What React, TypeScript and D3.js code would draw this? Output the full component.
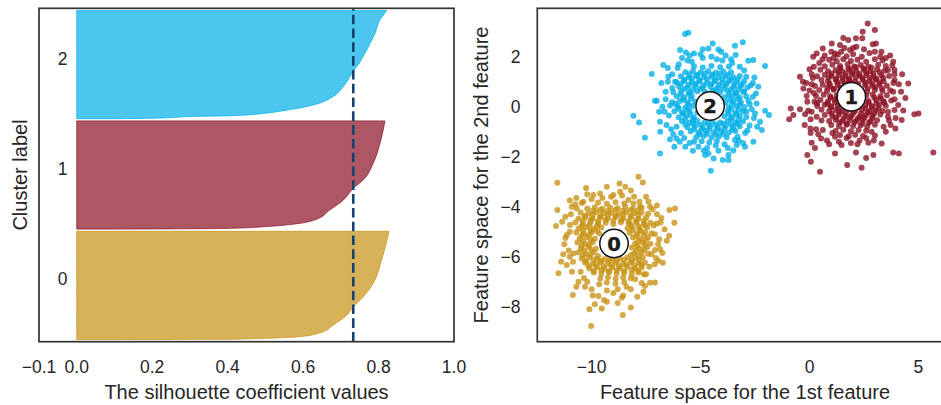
import React from "react";
import * as d3 from "d3";

// ---- Silhouette panel data ----
const CLUSTER_IDS = [0, 1, 2];
const CLUSTER_SIZES = [500, 500, 500];
const SIL_X_TICKS = [-0.1, 0, 0.2, 0.4, 0.6, 0.8, 1.0];
const SILHOUETTE_AVG = 0.733;

// Sorted silhouette profile per cluster: [rank within cluster, coefficient]
const SIL_PROFILE_0 = [
  [0, 0.1], [1, 0.38], [3, 0.45], [5.5, 0.5], [13, 0.59], [31, 0.645], [67, 0.68],
  [113, 0.716], [152, 0.733], [198, 0.76], [260, 0.786], [367, 0.808], [500, 0.828],
];
const SIL_PROFILE_1 = [
  [0, 0.1], [1, 0.25], [4, 0.415], [12, 0.504], [27, 0.592], [43, 0.632], [89, 0.671],
  [135, 0.707], [189, 0.733], [228, 0.76], [305, 0.786], [397, 0.804], [500, 0.817],
];
const SIL_PROFILE_2 = [
  [0, 0.1], [2, 0.2], [11, 0.327], [14, 0.415], [26, 0.504], [35, 0.539], [50, 0.592],
  [73, 0.645], [103, 0.68], [149, 0.707], [219, 0.733], [250, 0.746], [319, 0.769],
  [396, 0.791], [458, 0.804], [500, 0.822],
];

// ---- Scatter panel data ----
const FEAT_X_TICKS = [-10, -5, 0, 5];
const FEAT_Y_TICKS = [-8, -6, -4, -2, 0, 2];
const CENTER_X = [-8.97, 1.92, -4.56];
const CENTER_Y = [-5.47, 0.4, 0.03];

// Flat [x, y, x, y, ...] samples per cluster
const CLUSTER0_XY = [
  -11.57,-3.04, -8.72,-3.07, -7.85,-2.8, -7.65,-3.03, -11.57,-4.13, -11.63,-4.77, -11.52,-6.66,
  -10.86,-7.53, -10.1,-8.1, -10.02,-8.77, -9.53,-8.07, -9.3,-7.8, -9.43,-7.73, -8.57,-8.33,
  -8.2,-8.03, -8.61,-7.64, -9.69,-7.57, -10.3,-7.2, -7.62,-7.4, -7.55,-7.17, -7.32,-7.04,
  -7.09,-7.03, -6.94,-6.16, -6.73,-6.24, -6.55,-5.36, -6.44,-5.16, -6.2,-4.64, -6.43,-4.13,
  -6.17,-4.07, -6.83,-4.63, -7.01,-4.67, -7.09,-5.73, -7.39,-3.8, -7.32,-4.0, -11.14,-5.13,
  -10.99,-4.73, -11.14,-6.33, -10.83,-5.87, -10.91,-4.0, -10.68,-4.07, -10.38,-3.8, -9.92,-3.53,
  -9.61,-3.47, -9.0,-3.53, -8.69,-3.4, -8.31,-3.73, -8.08,-3.87, -7.78,-4.0,
  -9.7,-3.83, -9.3,-3.88, -8.9,-3.82, -8.5,-3.87,
  -10.2,-4.07, -9.85,-4.02, -9.5,-4.08, -9.15,-4.03, -8.8,-4.06, -8.45,-4.01, -8.1,-4.07, -7.7,-4.03,
  -10.5,-4.23, -10.15,-4.28, -9.8,-4.22, -9.45,-4.27, -9.1,-4.24, -8.75,-4.29, -8.4,-4.22, -8.05,-4.26, -7.7,-4.23, -7.4,-4.28,
  -10.6,-4.47, -10.3,-4.42, -9.95,-4.48, -9.6,-4.43, -9.25,-4.46, -8.9,-4.41, -8.55,-4.47, -8.2,-4.43, -7.85,-4.48, -7.5,-4.44,
  -10.75,-4.63, -10.4,-4.68, -10.05,-4.62, -9.7,-4.67, -9.35,-4.64, -9.0,-4.69, -8.65,-4.62, -8.3,-4.66, -7.95,-4.63, -7.6,-4.68, -7.3,-4.64,
  -10.6,-4.87, -10.25,-4.82, -9.9,-4.88, -9.55,-4.83, -8.35,-4.86, -8.15,-4.81, -7.8,-4.87, -7.45,-4.83,
  -10.7,-5.03, -10.35,-5.08, -10.0,-5.02, -9.65,-5.07, -8.25,-5.04, -7.9,-5.08, -7.55,-5.02, -7.25,-5.06,
  -10.55,-5.27, -10.2,-5.22, -9.85,-5.28, -8.1,-5.23, -7.75,-5.27, -7.4,-5.22,
  -10.65,-5.43, -10.3,-5.48, -9.95,-5.42, -8.0,-5.47, -7.65,-5.43, -7.3,-5.48,
  -10.5,-5.67, -10.15,-5.62, -9.8,-5.68, -8.15,-5.63, -7.8,-5.67, -7.45,-5.62,
  -10.6,-5.83, -10.25,-5.88, -9.9,-5.82, -8.05,-5.87, -7.7,-5.83, -7.4,-5.88,
  -10.45,-6.07, -10.1,-6.02, -9.75,-6.08, -9.4,-6.09, -9.05,-6.1, -8.7,-6.08, -8.35,-6.03, -8.0,-6.06, -7.65,-6.02,
  -10.3,-6.23, -9.95,-6.28, -9.6,-6.22, -9.25,-6.27, -8.9,-6.24, -8.55,-6.29, -8.2,-6.22, -7.85,-6.26, -7.55,-6.23,
  -10.1,-6.47, -9.75,-6.42, -9.4,-6.48, -9.05,-6.43, -8.7,-6.46, -8.35,-6.41, -8.0,-6.47, -7.7,-6.43,
  -9.9,-6.63, -9.55,-6.68, -9.2,-6.62, -8.85,-6.67, -8.5,-6.64, -8.15,-6.69, -7.85,-6.63,
  -9.6,-6.87, -9.25,-6.82, -8.9,-6.88, -8.55,-6.83, -8.2,-6.86,
  -9.3,-7.03, -8.9,-7.08, -8.5,-7.02,
  -9.95,-4.16, -9.6,-4.13, -9.25,-4.17, -8.9,-4.12, -8.55,-4.16, -8.2,-4.13, -7.9,-4.17,
  -10.3,-4.36, -9.95,-4.33, -9.6,-4.37, -9.25,-4.32, -8.9,-4.36, -8.55,-4.33, -8.2,-4.37, -7.85,-4.34,
  -10.4,-4.56, -10.05,-4.53, -9.7,-4.57, -9.35,-4.52, -9.0,-4.56, -8.65,-4.53, -8.3,-4.57, -7.95,-4.54, -7.6,-4.56,
  -10.45,-4.76, -10.1,-4.73, -9.75,-4.77, -8.2,-4.73, -7.85,-4.77, -7.55,-4.74,
  -10.4,-4.96, -10.05,-4.93, -9.75,-4.97, -8.1,-4.94, -7.75,-4.97,
  -10.45,-5.16, -10.1,-5.13, -7.95,-5.17, -7.6,-5.13,
  -10.4,-5.36, -10.05,-5.33, -7.85,-5.37, -7.5,-5.33,
  -10.45,-5.56, -10.1,-5.53, -7.9,-5.57, -7.55,-5.53,
  -10.35,-5.76, -10.0,-5.73, -7.95,-5.77, -7.6,-5.73,
  -10.4,-5.96, -10.05,-5.93, -9.7,-5.97, -8.2,-5.94, -7.85,-5.97,
  -10.25,-6.16, -9.9,-6.13, -9.55,-6.17, -9.2,-6.14, -8.85,-6.17, -8.5,-6.13, -8.15,-6.16, -7.8,-6.13,
  -10.15,-6.36, -9.8,-6.33, -9.45,-6.37, -9.1,-6.34, -8.75,-6.37, -8.4,-6.33, -8.05,-6.36, -7.7,-6.33,
  -9.9,-6.56, -9.55,-6.53, -9.2,-6.57, -8.85,-6.54, -8.5,-6.57, -8.15,-6.53, -7.85,-6.55,
  -11.0,-3.75, -11.2,-4.4, -11.25,-5.5, -11.0,-6.0, -10.9,-6.6, -10.6,-7.0, -10.0,-7.3, -9.0,-7.45,
  -8.2,-7.3, -7.5,-6.7, -7.1,-6.3, -6.9,-5.3, -7.0,-4.3, -7.5,-3.6, -8.2,-3.35, -9.3,-3.2,
  -10.2,-3.5, -10.7,-3.65, -6.65,-4.9, -6.85,-5.7, -9.85,-7.9, -8.8,-7.85, -11.3,-5.9, -7.9,-7.6,
  -10.95,-4.3, -11.0,-5.0, -11.05,-5.75, -10.85,-6.2, -10.75,-3.9, -10.5,-6.6, -10.35,-6.85, -10.45,-3.85,
  -10.0,-3.7, -9.65,-7.1, -9.5,-3.65, -9.1,-3.6, -8.8,-7.3, -8.6,-3.55, -8.4,-7.2, -8.05,-3.6,
  -8.0,-6.9, -7.8,-3.8, -7.6,-6.7, -7.35,-6.4, -7.2,-4.1, -7.15,-4.75, -7.1,-5.1, -6.95,-5.5,
  -7.05,-6.05, -7.25,-5.9, -6.8,-4.45, -7.0,-3.95, -11.2,-5.25, -10.7,-7.2, -9.3,-7.35, -10.2,-7.0,
  -9.95,-7.55, -8.55,-7.55, -7.7,-7.05, -11.35,-4.6, -10.25,-3.25, -8.45,-3.2, -6.75,-5.85, -11.4,-6.2,
];

const CLUSTER1_XY = [
  2.67,3.33, 3.0,3.07, 2.44,3.0, 2.13,2.74, 2.42,2.74, 3.05,2.53, 0.61,2.33, 0.17,2.0, 0.33,2.13,
  -0.44,1.2, -0.86,-0.07, -0.93,-0.5, -0.74,-0.33, -0.28,0.73, -0.22,-0.73, 0.04,-0.87, 0.1,-1.44,
  -0.1,-1.93, 0.06,-2.2, 0.48,-2.6, 1.73,-2.33, 2.39,-2.44, 1.17,-1.87, 2.13,-1.83, 2.93,-1.93,
  3.84,-1.83, 4.1,-1.87, 5.68,-1.83, 4.53,0.93, 4.23,-0.53, 4.81,-0.3, 5.0,-0.27, 3.94,-0.87,
  3.72,-0.73, 3.31,-1.47, 2.7,-1.44, 1.47,-1.53, 1.17,-1.2, 0.53,-1.27, 3.84,1.8, 3.9,1.47,
  3.6,1.47, 3.9,1.07, 3.84,0.6, 4.07,0.07, 3.9,-0.13, -0.13,0.43, -0.44,-0.1, -0.06,-0.16,
  0.23,0.2, 0.33,-0.4, 0.61,-0.93, 1.17,2.13, 1.4,2.47, 1.78,2.67, 2.15,2.4, 1.86,2.27, 1.02,2.53,
  1.3,2.08, 1.7,2.02, 2.0,2.1, 2.4,2.0, 2.75,2.15,
  0.9,1.88, 1.25,1.82, 1.55,1.9, 1.9,1.83, 2.2,1.88, 2.6,1.8, 3.0,1.9, 3.35,1.85,
  0.7,1.62, 1.05,1.68, 1.4,1.63, 1.75,1.7, 2.05,1.61, 2.35,1.67, 2.7,1.6, 3.15,1.68, 3.5,1.63,
  0.5,1.48, 0.85,1.42, 1.2,1.47, 1.5,1.41, 1.85,1.49, 2.15,1.43, 2.5,1.47, 2.8,1.42, 3.1,1.5, 3.45,1.44,
  0.35,1.22, 0.7,1.28, 1.0,1.23, 1.35,1.27, 1.65,1.21, 1.95,1.29, 2.3,1.24, 2.6,1.27, 2.95,1.2, 3.3,1.26, 3.65,1.23,
  0.55,1.07, 0.85,1.02, 1.2,1.08, 1.5,1.03, 1.8,1.06, 2.1,1.01, 2.45,1.07, 2.75,1.03, 3.05,1.08, 3.4,1.02,
  0.25,0.83, 0.6,0.88, 0.95,0.82, 1.3,0.87, 1.6,0.84, 1.9,0.89, 2.2,0.82, 2.55,0.86, 2.9,0.83, 3.2,0.88, 3.55,0.84,
  0.45,0.67, 0.8,0.62, 1.1,0.68, 1.4,0.63, 2.35,0.66, 2.65,0.61, 3.0,0.67, 3.35,0.63, 3.7,0.66,
  0.3,0.43, 0.65,0.48, 0.95,0.42, 1.25,0.47, 2.6,0.44, 2.9,0.49, 3.25,0.42, 3.55,0.46,
  0.5,0.27, 0.85,0.22, 1.15,0.28, 2.7,0.23, 3.05,0.27, 3.4,0.22,
  0.35,0.03, 0.7,0.08, 1.0,0.02, 1.3,0.07, 1.65,0.04, 1.95,0.09, 2.25,0.02, 2.55,0.06, 2.85,0.03, 3.2,0.08, 3.5,0.04,
  0.55,-0.12, 0.9,-0.18, 1.2,-0.13, 1.5,-0.17, 1.8,-0.11, 2.1,-0.16, 2.4,-0.12, 2.75,-0.18, 3.05,-0.14, 3.35,-0.17,
  0.7,-0.33, 1.05,-0.38, 1.35,-0.32, 1.65,-0.37, 1.95,-0.34, 2.3,-0.39, 2.6,-0.33, 2.9,-0.36, 3.25,-0.31,
  0.9,-0.57, 1.2,-0.52, 1.5,-0.58, 1.85,-0.53, 2.15,-0.56, 2.45,-0.51, 2.8,-0.58, 3.1,-0.54,
  1.0,-0.73, 1.35,-0.78, 1.7,-0.72, 2.0,-0.77, 2.35,-0.74, 2.65,-0.79, 3.0,-0.72,
  1.2,-0.97, 1.55,-0.92, 1.9,-0.98, 2.25,-0.93, 2.6,-0.96,
  1.4,-1.13, 1.8,-1.18, 2.1,-1.12, 2.45,-1.17,
  1.42,1.56, 1.78,1.53, 2.12,1.58, 2.47,1.54, 2.83,1.57,
  1.02,1.33, 1.33,1.38, 1.67,1.34, 1.97,1.37, 2.28,1.32, 2.62,1.36, 2.93,1.33, 3.22,1.38,
  0.87,1.17, 1.22,1.13, 1.52,1.16, 1.82,1.12, 2.12,1.18, 2.43,1.14, 2.77,1.16, 3.07,1.12, 3.38,1.15,
  0.92,0.93, 1.27,0.97, 1.62,0.94, 1.92,0.98, 2.23,0.92, 2.57,0.96, 2.87,0.93, 3.22,0.97,
  0.82,0.77, 1.12,0.72, 1.42,0.76, 2.67,0.74, 3.02,0.78, 3.32,0.73,
  0.97,0.36, 1.27,0.32, 2.97,0.37, 3.27,0.33,
  0.82,0.13, 1.17,0.17, 1.47,0.12, 2.72,0.16, 3.07,0.12, 3.42,0.16,
  0.97,-0.03, 1.32,-0.07, 1.62,-0.02, 1.92,-0.06, 2.22,-0.01, 2.57,-0.07, 2.87,-0.04, 3.17,-0.08,
  1.02,-0.27, 1.37,-0.22, 1.67,-0.26, 2.02,-0.23, 2.37,-0.28, 2.67,-0.24, 2.97,-0.26,
  1.22,-0.43, 1.57,-0.48, 1.87,-0.42, 2.22,-0.47, 2.52,-0.44, 2.87,-0.46,
  1.37,-0.63, 1.72,-0.68, 2.07,-0.62, 2.42,-0.66, 2.72,-0.64,
  0.0,1.5, 0.1,0.9, -0.1,0.2, 0.05,-0.5, 0.3,-0.9, 0.9,-1.5, 1.9,-1.45, 2.3,-1.35, 3.0,-1.15,
  3.5,-1.0, 3.6,-0.4, 3.9,0.3, 4.1,0.9, 3.7,2.05, 3.3,2.2, 0.6,1.9, 0.2,1.6, 4.25,1.3, 4.4,0.35,
  1.0,2.2, 2.9,2.5, 1.55,2.75, 2.6,-2.05, 0.25,-1.65,
  -0.3,1.0, -0.2,-0.3, 0.0,0.65, 0.1,-0.2, 0.15,1.15, 0.05,-1.05, 0.4,-1.1, 0.45,1.75,
  0.7,2.05, 0.8,-1.35, 1.05,-1.05, 1.1,1.95, 1.35,-1.4, 1.6,2.35, 1.7,-1.25, 2.0,2.35,
  2.2,-1.5, 2.5,2.3, 2.6,-1.25, 2.85,-1.0, 3.0,2.2, 3.25,2.0, 3.4,-0.8, 3.6,-0.2,
  3.75,0.25, 3.85,0.95, 3.9,1.3, 3.5,1.95, 4.2,0.6, 4.3,-0.15, 0.2,0.55, 0.1,1.3,
  -0.15,0.95, 3.65,-0.55, 3.95,-0.45, 2.95,-1.35, 1.45,2.2, 0.55,-0.55, 0.35,0.15, 3.8,1.65,
];

const CLUSTER2_XY = [
  -5.71,2.91, -5.56,2.96, -4.44,2.53, -4.64,2.33, -3.42,2.44, -3.06,2.58, -3.39,2.07, -4.18,2.29,
  -5.94,2.27, -5.67,2.17, -5.3,2.13, -6.71,1.67, -7.24,1.31, -2.04,1.63, -2.81,1.84, -2.58,1.87,
  -6.17,1.0, -6.48,1.2, -7.09,0.24, -7.01,0.24, -8.08,-0.36, -7.82,-0.63, -7.55,-1.24, -6.86,-1.87,
  -6.4,-1.3, -6.1,-1.27, -6.86,-0.6, -6.56,-0.73, -2.04,-0.16, -1.86,-0.33, -2.19,-0.93, -2.58,-1.4,
  -2.96,-1.6, -2.5,-0.27, -2.43,0.13, -2.46,0.53, -2.53,1.17, -2.27,-0.6, -4.53,-2.56, -3.98,-2.13,
  -3.72,-2.13, -4.4,-2.07, -4.79,-1.93, -4.64,-1.87, -5.35,-1.76, -5.7,-1.6, -3.72,-1.93, -4.18,-1.76,
  -3.34,-1.53, -3.42,-1.33,
  -5.3,1.62, -4.9,1.57, -4.5,1.63, -4.1,1.58, -3.7,1.61,
  -5.7,1.38, -5.35,1.43, -5.0,1.37, -4.65,1.42, -4.3,1.36, -3.95,1.41, -3.6,1.38,
  -5.9,1.22, -5.55,1.17, -5.2,1.23, -4.85,1.18, -4.5,1.21, -4.2,1.16, -3.85,1.22, -3.5,1.18, -3.2,1.23,
  -6.1,0.98, -5.75,1.03, -5.4,0.97, -5.05,1.02, -4.7,0.96, -4.35,1.01, -4.0,0.97, -3.7,1.03, -3.35,0.98, -3.0,1.02,
  -6.0,0.82, -5.6,0.77, -5.25,0.83, -4.9,0.78, -4.55,0.81, -4.2,0.76, -3.85,0.82, -3.5,0.78, -3.15,0.83, -2.85,0.77,
  -6.25,0.58, -5.9,0.63, -5.5,0.57, -5.15,0.62, -4.8,0.6, -4.45,0.64, -4.1,0.58, -3.75,0.62, -3.4,0.57, -3.05,0.61,
  -6.1,0.42, -5.75,0.37, -5.4,0.43, -3.9,0.38, -3.55,0.42, -3.2,0.37, -2.9,0.41,
  -6.3,0.18, -5.95,0.23, -5.6,0.17, -5.25,0.21, -3.85,0.17, -3.5,0.22, -3.15,0.18, -2.8,0.23,
  -6.05,0.02, -5.7,-0.03, -5.35,0.03, -3.7,-0.02, -3.35,0.03, -3.0,-0.01,
  -6.2,-0.18, -5.85,-0.23, -5.5,-0.17, -5.15,-0.22, -3.75,-0.18, -3.4,-0.23, -3.05,-0.19,
  -6.0,-0.42, -5.65,-0.37, -5.3,-0.43, -3.9,-0.38, -3.55,-0.42, -3.2,-0.37, -2.9,-0.41,
  -5.85,-0.58, -5.5,-0.63, -5.15,-0.57, -4.8,-0.62, -4.45,-0.58, -4.1,-0.63, -3.75,-0.57, -3.4,-0.62, -3.05,-0.58,
  -5.6,-0.82, -5.25,-0.77, -4.9,-0.83, -4.55,-0.78, -4.2,-0.82, -3.85,-0.77, -3.5,-0.81, -3.2,-0.78,
  -5.45,-0.98, -5.1,-1.03, -4.75,-0.97, -4.4,-1.02, -4.05,-0.98, -3.7,-1.03, -3.4,-0.97,
  -5.2,-1.22, -4.85,-1.17, -4.5,-1.23, -4.15,-1.18, -3.8,-1.22,
  -4.95,-1.38, -4.6,-1.43, -4.25,-1.37,
  -5.5,1.31, -5.15,1.28, -4.8,1.32, -4.45,1.29, -4.1,1.33, -3.75,1.28,
  -5.75,1.09, -5.4,1.12, -5.05,1.08, -4.7,1.11, -4.35,1.07, -4.0,1.12, -3.6,1.08, -3.3,1.1,
  -5.9,0.91, -5.55,0.88, -5.2,0.92, -4.85,0.87, -4.5,0.91, -4.15,0.88, -3.8,0.93, -3.45,0.88, -3.1,0.91,
  -5.75,0.71, -5.35,0.68, -5.0,0.72, -4.3,0.69, -3.95,0.72, -3.6,0.68, -3.25,0.71,
  -5.9,0.49, -5.55,0.52, -3.7,0.48, -3.35,0.52,
  -5.8,0.28, -5.45,0.32, -3.65,0.29, -3.3,0.31,
  -6.15,0.12, -5.55,0.08, -3.55,0.12, -3.2,0.09,
  -6.0,-0.08, -5.6,-0.12, -3.6,-0.09, -3.25,-0.12,
  -5.8,-0.28, -5.45,-0.32, -3.7,-0.29, -3.35,-0.31,
  -5.7,-0.49, -5.35,-0.52, -3.6,-0.48, -3.25,-0.52,
  -5.7,-0.71, -5.35,-0.68, -5.0,-0.72, -4.65,-0.69, -4.3,-0.72, -3.95,-0.68, -3.6,-0.71, -3.3,-0.69,
  -5.3,-0.89, -4.95,-0.92, -4.6,-0.88, -4.25,-0.91, -3.9,-0.88, -3.55,-0.92,
  -5.05,-1.11, -4.7,-1.08, -4.3,-1.12, -3.95,-1.09,
  -6.5,1.55, -6.3,0.75, -6.6,0.3, -6.65,-0.2, -6.35,-0.9, -5.9,-1.05, -5.5,-1.45, -5.1,-1.6,
  -3.9,-1.5, -3.3,-1.2, -2.75,-0.75, -2.65,-0.1, -2.7,0.85, -3.0,1.45, -3.6,1.9, -4.25,1.9,
  -4.9,1.95, -5.4,1.8, -6.05,1.55, -6.9,-0.2, -2.95,-1.05, -4.9,2.3, -3.85,2.05, -6.2,-1.6,
  -6.6,0.6, -6.45,-0.35, -6.5,1.0, -6.3,1.3, -6.1,-0.8, -6.0,1.7, -5.75,-1.25, -5.6,1.85,
  -5.3,-1.4, -5.0,2.1, -4.7,-1.65, -4.5,2.0, -4.3,-1.55, -4.0,1.85, -3.75,-1.65, -3.55,1.75,
  -3.25,-1.35, -3.2,1.6, -2.9,1.2, -2.85,-0.95, -2.6,0.4, -2.55,-0.45, -2.75,0.1, -2.6,0.95,
  -6.75,0.0, -6.4,0.05, -2.9,-0.2, -3.0,0.6, -5.95,-1.4, -3.5,-1.75, -4.05,2.2, -5.5,2.05,
  -6.8,0.95, -2.4,-0.8, -6.25,-1.1, -3.05,-1.45, -5.85,1.95, -6.85,-1.0, -2.35,0.8, -4.85,-1.75,
];

// ---- Styling ----
const PALETTE = ["#C79213", "#8A1023", "#00AEE7"];
const FONT = "'Liberation Sans', Arial, Helvetica, sans-serif";
const TEXT = "#262626";
const SPINE = "#333333";

const W = 941;
const H = 405;
const TOP = 8.3;
const BOTTOM = 341.7;

function pairs(flat: number[]): [number, number][] {
  const out: [number, number][] = [];
  for (let i = 0; i < flat.length; i += 2) out.push([flat[i], flat[i + 1]]);
  return out;
}

const fmtTick = (v: number, digits: number) =>
  v.toFixed(digits).replace("-", "\u2212");

export default function App() {
  // Left panel: silhouette plot
  const silX = d3.scaleLinear().domain([-0.1, 1.0]).range([39, 454]);
  const gap = 10;
  const total = d3.sum(CLUSTER_SIZES) + (CLUSTER_IDS.length + 1) * gap;
  const silY = d3.scaleLinear().domain([0, total]).range([BOTTOM, TOP]);
  const profiles = [SIL_PROFILE_0, SIL_PROFILE_1, SIL_PROFILE_2];

  const lowers: number[] = [];
  let yl = gap;
  CLUSTER_IDS.forEach((_, i) => {
    lowers.push(yl);
    yl += CLUSTER_SIZES[i] + gap;
  });

  const makeArea = (lower: number) =>
    d3
      .area<number[]>()
      .y((d) => silY(lower + d[0]))
      .x0(() => silX(0))
      .x1((d) => silX(d[1]))
      .curve(d3.curveMonotoneY);

  // Right panel: feature space
  const fx = d3.scaleLinear().domain([-12.49, 6.57]).range([537.3, 952.7]);
  const fy = d3.scaleLinear().domain([-9.4, 3.94]).range([BOTTOM, TOP]);
  const clusters = [CLUSTER0_XY, CLUSTER1_XY, CLUSTER2_XY].map(pairs);

  return (
    <svg
      width={W}
      height={H}
      style={{ position: "absolute", left: 0, top: 0, background: "#fff" }}
      fontFamily={FONT}
    >
      <defs>
        <clipPath id="clipR">
          <rect x={fx.range()[0]} y={TOP} width={fx.range()[1] - fx.range()[0]} height={BOTTOM - TOP} />
        </clipPath>
      </defs>

      {/* Silhouette areas */}
      {CLUSTER_IDS.map((c, i) => (
        <path
          key={"sil" + c}
          d={makeArea(lowers[i])(profiles[i]) || ""}
          fill={PALETTE[i]}
          fillOpacity={0.7}
          stroke={PALETTE[i]}
          strokeOpacity={0.7}
          strokeWidth={1}
        />
      ))}
      {CLUSTER_IDS.map((c, i) => (
        <text
          key={"cl" + c}
          x={silX(-0.05)}
          y={silY(lowers[i] + CLUSTER_SIZES[i] / 2)}
          fontSize={17.5}
          fill={TEXT}
        >
          {String(c)}
        </text>
      ))}
      <line
        x1={silX(SILHOUETTE_AVG)}
        x2={silX(SILHOUETTE_AVG)}
        y1={BOTTOM}
        y2={TOP}
        stroke="#17426d"
        strokeWidth={2.6}
        strokeDasharray="9.6,4.2"
      />
      <rect x={39} y={TOP} width={415} height={BOTTOM - TOP} fill="none" stroke={SPINE} strokeWidth={1.7} />
      {SIL_X_TICKS.map((t) => (
        <text key={"sx" + t} x={silX(t)} y={372.5} fontSize={17.5} fill={TEXT} textAnchor="middle">
          {fmtTick(t, 1)}
        </text>
      ))}
      <text x={246.5} y={399} fontSize={20} fill={TEXT} textAnchor="middle">
        The silhouette coefficient values
      </text>
      <text transform="translate(26.5,175) rotate(-90)" fontSize={20} fill={TEXT} textAnchor="middle">
        Cluster label
      </text>

      {/* Feature-space scatter */}
      <g clipPath="url(#clipR)">
        {clusters.map((pts, i) =>
          pts.map((p, j) => (
            <circle
              key={"p" + i + "-" + j}
              cx={fx(p[0])}
              cy={fy(p[1])}
              r={3}
              fill={PALETTE[i]}
              fillOpacity={0.78}
            />
          ))
        )}
        {CLUSTER_IDS.map((c, i) => (
          <g key={"ctr" + c} transform={`translate(${fx(CENTER_X[i])},${fy(CENTER_Y[i])})`}>
            <circle r={14.2} fill="#fff" stroke="#111" strokeWidth={1.5} />
            <text
              fontFamily="'DejaVu Sans', sans-serif"
              fontWeight="bold"
              fontSize={19.5}
              fill="#1a1a1a"
              stroke="#1a1a1a"
              strokeWidth={0.4}
              textAnchor="middle"
              dy="0.36em"
            >
              {String(c)}
            </text>
          </g>
        ))}
      </g>
      <rect
        x={fx.range()[0]}
        y={TOP}
        width={fx.range()[1] - fx.range()[0]}
        height={BOTTOM - TOP}
        fill="none"
        stroke={SPINE}
        strokeWidth={1.7}
      />
      {FEAT_X_TICKS.map((t) => (
        <text key={"fx" + t} x={fx(t)} y={372.5} fontSize={17.5} fill={TEXT} textAnchor="middle">
          {fmtTick(t, 0)}
        </text>
      ))}
      {FEAT_Y_TICKS.map((t) => (
        <text key={"fy" + t} x={520.5} y={fy(t)} dy="0.36em" fontSize={17.5} fill={TEXT} textAnchor="end">
          {fmtTick(t, 0)}
        </text>
      ))}
      <text x={745} y={399} fontSize={20} fill={TEXT} textAnchor="middle">
        Feature space for the 1st feature
      </text>
      <text transform="translate(488,175) rotate(-90)" fontSize={20} fill={TEXT} textAnchor="middle">
        Feature space for the 2nd feature
      </text>
    </svg>
  );
}
